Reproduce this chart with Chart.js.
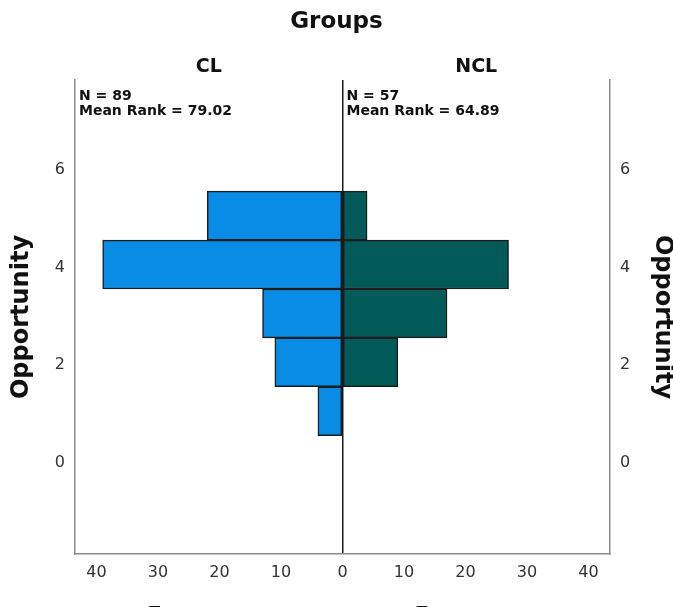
<!DOCTYPE html>
<html>
<head>
<meta charset="utf-8">
<title>Opportunity by group</title>
<script src="https://cdn.jsdelivr.net/npm/chart.js@4"></script>
<style>
  html, body { margin: 0; padding: 0; background: #ffffff; }
  #wrap { width: 673px; height: 607px; position: relative; }
</style>
</head>
<body>
<div id="wrap"><canvas id="chart"></canvas></div>
<script>
// Opportunity score levels and the number of respondents at each level
const opportunityLevels = [1, 2, 3, 4, 5];
const clCounts  = [4, 11, 13, 39, 22];
const nclCounts = [null, 9, 17, 27, 4];

// Panel headings and summary statistics
const groupNames = ['CL', 'NCL'];
const groupSummaries = [
  ['N = 89', 'Mean Rank = 79.02'],
  ['N = 57', 'Mean Rank = 64.89']
];

// Axis ticks
const frequencyTicks = [-40, -30, -20, -10, 0, 10, 20, 30, 40];
const opportunityTicks = [0, 2, 4, 6];

const FONT = '"DejaVu Sans", sans-serif';
Chart.defaults.font.family = FONT;

// CL counts extend to the left (negative side), NCL counts to the right
const clPoints = opportunityLevels.map((lvl, i) => ({ x: -clCounts[i], y: lvl }));
const nclPoints = opportunityLevels
  .map((lvl, i) => ({ x: nclCounts[i], y: lvl }))
  .filter(p => p.x !== null);

const barStyle = {
  grouped: false,
  barPercentage: 1,
  categoryPercentage: 1,
  borderSkipped: false,
  borderWidth: 1.5,
  borderColor: '#1c1c1c'
};

const yRange = { min: -1.92, max: 7.773 };

// Headings, summary text and the per-panel axis titles
const panelText = {
  id: 'panelText',
  afterDraw(chart) {
    const { ctx, chartArea, scales: { x } } = chart;
    const zero = x.getPixelForValue(0);
    const panels = [[chartArea.left, zero], [zero, chartArea.right]];
    ctx.save();
    ctx.fillStyle = '#111111';
    ctx.textBaseline = 'alphabetic';
    panels.forEach(([l, r], i) => {
      const mid = (l + r) / 2;
      ctx.textAlign = 'center';
      ctx.font = 'bold 19px ' + FONT;
      ctx.fillText(groupNames[i], mid, 72);

      ctx.textAlign = 'left';
      ctx.font = 'bold 14px ' + FONT;
      groupSummaries[i].forEach((line, j) => ctx.fillText(line, l + 4, 100 + 15 * j));

      ctx.textAlign = 'center';
      ctx.font = 'bold 21px ' + FONT;
      ctx.fillText('Frequency', mid, 622);
    });
    ctx.restore();
  }
};

const yTicks = {
  color: '#333333',
  font: { size: 16 },
  padding: 10,
  labelOffset: 3
};

new Chart(document.getElementById('chart'), {
  type: 'bar',
  data: {
    datasets: [
      Object.assign({ label: 'CL', data: clPoints, backgroundColor: '#088ce6' }, barStyle),
      Object.assign({ label: 'NCL', data: nclPoints, backgroundColor: '#025a59' }, barStyle)
    ]
  },
  options: {
    indexAxis: 'y',
    responsive: true,
    maintainAspectRatio: false,
    animation: false,
    layout: { padding: 0 },
    plugins: {
      legend: { display: false },
      tooltip: { enabled: false },
      title: {
        display: true,
        text: 'Groups',
        color: '#111111',
        font: { size: 23, weight: 'bold' },
        padding: { top: 8, bottom: 44.4 }
      }
    },
    scales: {
      x: {
        type: 'linear',
        min: -43.5,
        max: 43.5,
        afterBuildTicks: s => { s.ticks = frequencyTicks.map(v => ({ value: v })); },
        afterFit: s => { s.height = 53; },
        ticks: {
          color: '#333333',
          font: { size: 16 },
          padding: 9,
          callback: v => String(Math.abs(v))
        },
        grid: {
          display: true,
          drawTicks: false,
          lineWidth: 1.5,
          color: c => (c.tick && c.tick.value === 0) ? '#1a1a1a' : 'rgba(0,0,0,0)'
        },
        border: { display: true, color: '#8c8c8c', width: 1.5 }
      },
      y: {
        type: 'linear',
        position: 'left',
        offset: false,
        min: yRange.min,
        max: yRange.max,
        afterBuildTicks: s => { s.ticks = opportunityTicks.map(v => ({ value: v })); },
        afterFit: s => { s.width = 75; },
        ticks: yTicks,
        grid: { display: false, drawTicks: false },
        border: { display: true, color: '#8c8c8c', width: 1.5 },
        title: {
          display: true,
          text: 'Opportunity',
          color: '#111111',
          font: { size: 24, weight: 'bold', lineHeight: 0.9 },
          padding: { top: 11, bottom: 0 }
        }
      },
      y2: {
        type: 'linear',
        axis: 'y',
        position: 'right',
        offset: false,
        min: yRange.min,
        max: yRange.max,
        afterBuildTicks: s => { s.ticks = opportunityTicks.map(v => ({ value: v })); },
        afterFit: s => { s.width = 63; },
        ticks: yTicks,
        grid: { display: false, drawTicks: false },
        border: { display: true, color: '#8c8c8c', width: 1.5 },
        title: {
          display: true,
          text: 'Opportunity',
          color: '#111111',
          font: { size: 24, weight: 'bold', lineHeight: 0.9 },
          padding: { top: 0, bottom: 0 }
        }
      }
    }
  },
  plugins: [panelText]
});
</script>
</body>
</html>
